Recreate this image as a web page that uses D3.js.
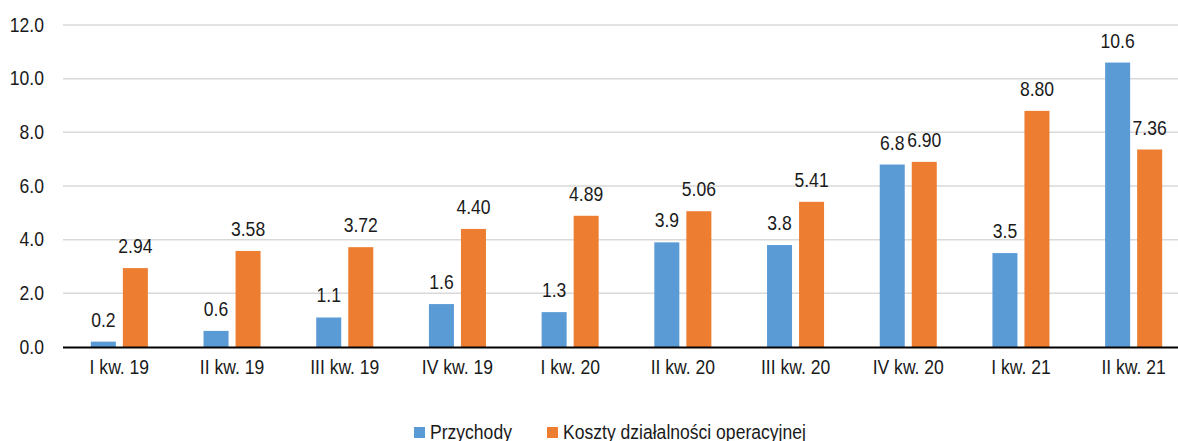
<!DOCTYPE html>
<html lang="pl">
<head>
  <meta charset="UTF-8">
  <title>Przychody i koszty</title>
  <script src="https://d3js.org/d3.v7.min.js"></script>
  <style>
    body {
      margin: 0;
      background: #fff;
    }
    svg text {
      font-family: "Liberation Sans", Arial, sans-serif;
      font-size: 19.5px;
      fill: #1a1a1a;
    }
    .grid line {
      stroke: #d9d9d9;
      stroke-width: 1.5px;
    }
  </style>
</head>
<body>
  <div id="chart"></div>

  <script>
    const categories = ["I kw. 19", "II kw. 19", "III kw. 19", "IV kw. 19", "I kw. 20",
                        "II kw. 20", "III kw. 20", "IV kw. 20", "I kw. 21", "II kw. 21"];
    const revenue = [0.2, 0.6, 1.1, 1.6, 1.3, 3.9, 3.8, 6.8, 3.5, 10.6];
    const costs = [2.94, 3.58, 3.72, 4.40, 4.89, 5.06, 5.41, 6.90, 8.80, 7.36];
    const seriesNames = ["Przychody", "Koszty działalności operacyjnej"];
    const seriesColors = ["#5b9bd5", "#ed7d31"];
    const yTicks = [0, 2, 4, 6, 8, 10, 12];

    const width = 1178, height = 441;
    const plot = { left: 63, right: 1190, top: 25, bottom: 347 };
    const squeeze = 0.9; // the original font is a little condensed

    const svg = d3.select("#chart")
      .append("svg")
      .attr("width", width)
      .attr("height", height);

    const x0 = d3.scaleBand()
      .domain(categories)
      .range([plot.left, plot.right])
      .paddingInner(0.494)
      .paddingOuter(0.247);

    const x1 = d3.scaleBand()
      .domain(seriesNames)
      .range([0, x0.bandwidth()])
      .paddingInner(0.219);

    const y = d3.scaleLinear()
      .domain([0, 12])
      .range([plot.bottom, plot.top]);

    // gridlines
    svg.append("g")
      .attr("class", "grid")
      .selectAll("line")
      .data(yTicks.filter(t => t > 0))
      .enter()
      .append("line")
      .attr("x1", plot.left)
      .attr("x2", width)
      .attr("y1", d => y(d))
      .attr("y2", d => y(d));

    // y axis labels
    const yAxis = d3.axisLeft(y)
      .tickValues(yTicks)
      .tickFormat(d3.format(".1f"))
      .tickSize(0)
      .tickPadding(19 / squeeze);

    const yg = svg.append("g")
      .attr("transform", `translate(${plot.left},0)`)
      .call(yAxis);
    yg.select(".domain").remove();
    yg.selectAll("text")
      .attr("fill", "#1a1a1a")
      .attr("transform", `scale(${squeeze},1)`);

    const rows = categories.map((c, i) => ({ cat: c, values: [revenue[i], costs[i]] }));

    const groups = svg.selectAll(".group")
      .data(rows)
      .enter()
      .append("g")
      .attr("class", "group")
      .attr("transform", d => `translate(${x0(d.cat)},0)`);

    groups.selectAll("rect")
      .data(d => d.values.map((v, k) => ({ v, k })))
      .enter()
      .append("rect")
      .attr("x", d => x1(seriesNames[d.k]))
      .attr("width", x1.bandwidth())
      .attr("y", d => y(d.v))
      .attr("height", d => y(0) - y(d.v))
      .attr("fill", d => seriesColors[d.k]);

    groups.selectAll(".val")
      .data(d => d.values.map((v, k) => ({ v, k })))
      .enter()
      .append("text")
      .attr("class", "val")
      .attr("transform", d =>
        `translate(${x1(seriesNames[d.k]) + x1.bandwidth() / 2},${y(d.v) - 15}) scale(${squeeze},1)`)
      .attr("text-anchor", "middle")
      .text(d => d.k === 0 ? d.v.toFixed(1) : d.v.toFixed(2));

    // x axis
    const xAxis = d3.axisBottom(x0)
      .tickSize(0)
      .tickPadding(13);

    const xg = svg.append("g")
      .attr("transform", `translate(0,${plot.bottom})`)
      .call(xAxis);
    xg.select(".domain")
      .attr("d", `M${plot.left},0.5H${width}`)
      .attr("stroke", "#000")
      .attr("stroke-width", 2);
    xg.selectAll("text")
      .attr("fill", "#1a1a1a")
      .attr("transform", `scale(${squeeze},1)`);

    // legend
    const legendItems = [
      { name: seriesNames[0], color: seriesColors[0], x: 414 },
      { name: seriesNames[1], color: seriesColors[1], x: 547 }
    ];
    const legend = svg.append("g");
    legend.selectAll("rect")
      .data(legendItems)
      .enter()
      .append("rect")
      .attr("x", d => d.x)
      .attr("y", 427)
      .attr("width", 11)
      .attr("height", 11)
      .attr("fill", d => d.color);
    legend.selectAll("text")
      .data(legendItems)
      .enter()
      .append("text")
      .attr("transform", d => `translate(${d.x + 16},439) scale(${squeeze},1)`)
      .text(d => d.name);
  </script>
</body>
</html>
